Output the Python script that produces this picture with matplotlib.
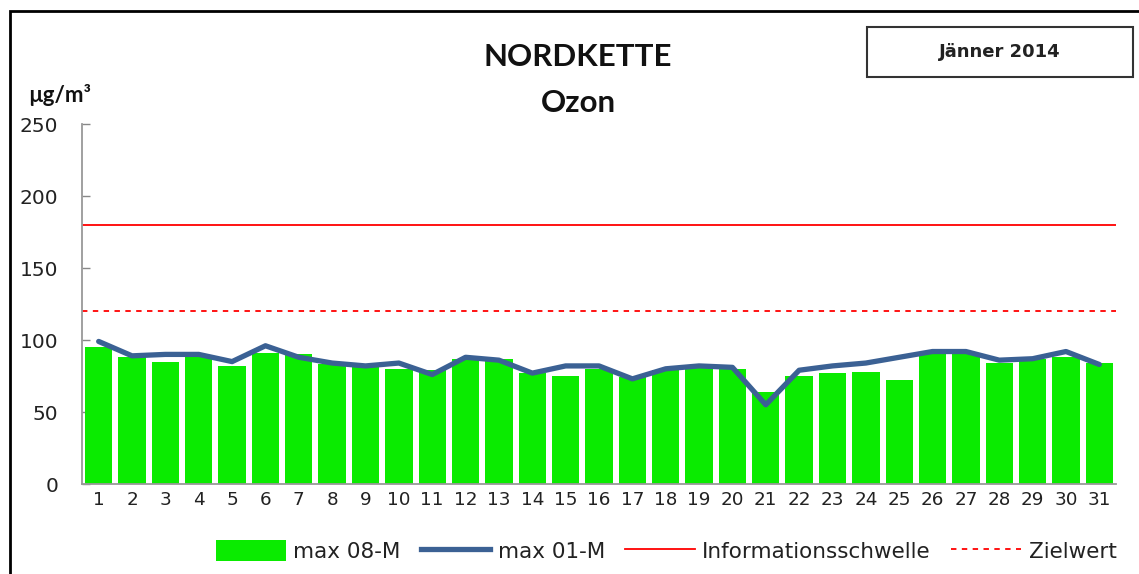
import matplotlib
matplotlib.use("Agg")
import matplotlib.pyplot as plt
from matplotlib.patches import Rectangle, Patch
from matplotlib.lines import Line2D

plt.rcParams['font.family'] = ['DejaVu Sans']

days = [str(d) for d in range(1, 32)]
max08 = [95, 88, 85, 88, 82, 91, 90, 83, 81, 80, 79, 87, 87, 77, 75, 80,
         74, 79, 81, 80, 64, 75, 77, 78, 72, 90, 90, 84, 87, 88, 84]
max01 = [99, 89, 90, 90, 85, 96, 88, 84, 82, 84, 76, 88, 86, 77, 82, 82,
         73, 80, 82, 81, 55, 79, 82, 84, 88, 92, 92, 86, 87, 92, 83]
info_threshold = 180
target_value = 120
yticks = [0, 50, 100, 150, 200, 250]

W, H = 1139, 574
fig = plt.figure(figsize=(W / 100, H / 100), dpi=100)

# outer frame
fig.patches.append(Rectangle((10 / W, -0.1), 1.2, (H - 11) / H + 0.1,
                             transform=fig.transFigure, fill=False,
                             edgecolor='black', linewidth=2, zorder=0))

ax = fig.add_axes([82 / W, 1 - 484 / H, (1116 - 82) / W, (484 - 124) / H])
x = list(range(len(days)))
ax.bar(x, max08, width=0.82, color='#0AEB00', zorder=2)
ax.plot(x, max01, color='#3B6194', linewidth=3.8, zorder=3,
        solid_joinstyle='round', solid_capstyle='round')
ax.axhline(info_threshold, color='#FF0000', linewidth=1.3, zorder=1)
ax.axhline(target_value, color='#FF0000', linewidth=1.3, linestyle=(0, (3, 3)), zorder=1)

ax.set_xlim(-0.5, len(days) - 0.5)
ax.set_ylim(0, 250)
ax.set_xticks(x)
ax.set_xticklabels(days)
ax.set_yticks(yticks)
ax.tick_params(axis='x', length=0, pad=5, labelsize=13.2, colors='#222222')
ax.tick_params(axis='y', direction='in', length=6, width=1, color='#888888',
               pad=17, labelsize=14.5, labelcolor='#222222')
for s in ['top', 'right']:
    ax.spines[s].set_visible(False)
for s in ['left', 'bottom']:
    ax.spines[s].set_color('#999999')
    ax.spines[s].set_linewidth(1.3)

fig.text(578 / W, 1 - 57 / H, 'NORDKETTE', ha='center', va='center',
         fontsize=22.5, fontweight='bold', color='#111111', family='Lato')
fig.text(578 / W, 1 - 103 / H, 'Ozon', ha='center', va='center',
         fontsize=22.5, fontweight='bold', color='#111111', family='Lato')
fig.text(60 / W, 1 - 95 / H, 'µg/m³', ha='center', va='center',
         fontsize=16, fontweight='bold', color='#111111', family='Lato')

fig.patches.append(Rectangle((867 / W, 1 - 77 / H), (1133 - 867) / W, 50 / H,
                             transform=fig.transFigure, fill=False,
                             edgecolor='#333333', linewidth=1.5))
fig.text(1000 / W, 1 - 52 / H, 'Jänner 2014', ha='center', va='center',
         fontsize=13, fontweight='bold', color='#222222')

handles = [Patch(facecolor='#0AEB00', edgecolor='none'),
           Line2D([0], [0], color='#3B6194', linewidth=3.8),
           Line2D([0], [0], color='#FF0000', linewidth=1.3),
           Line2D([0], [0], color='#FF0000', linewidth=1.3, linestyle=(0, (3, 3)))]
labels = ['max 08-M', 'max 01-M', 'Informationsschwelle', 'Zielwert']
leg = fig.legend(handles, labels, loc='center', ncol=4,
                 bbox_to_anchor=(666 / W, 1 - 551 / H), frameon=False,
                 fontsize=15.5, handlelength=3.25, handleheight=1.1,
                 handletextpad=0.33, columnspacing=0.95, labelcolor='#222222')

fig.savefig('out.png', dpi=100)
